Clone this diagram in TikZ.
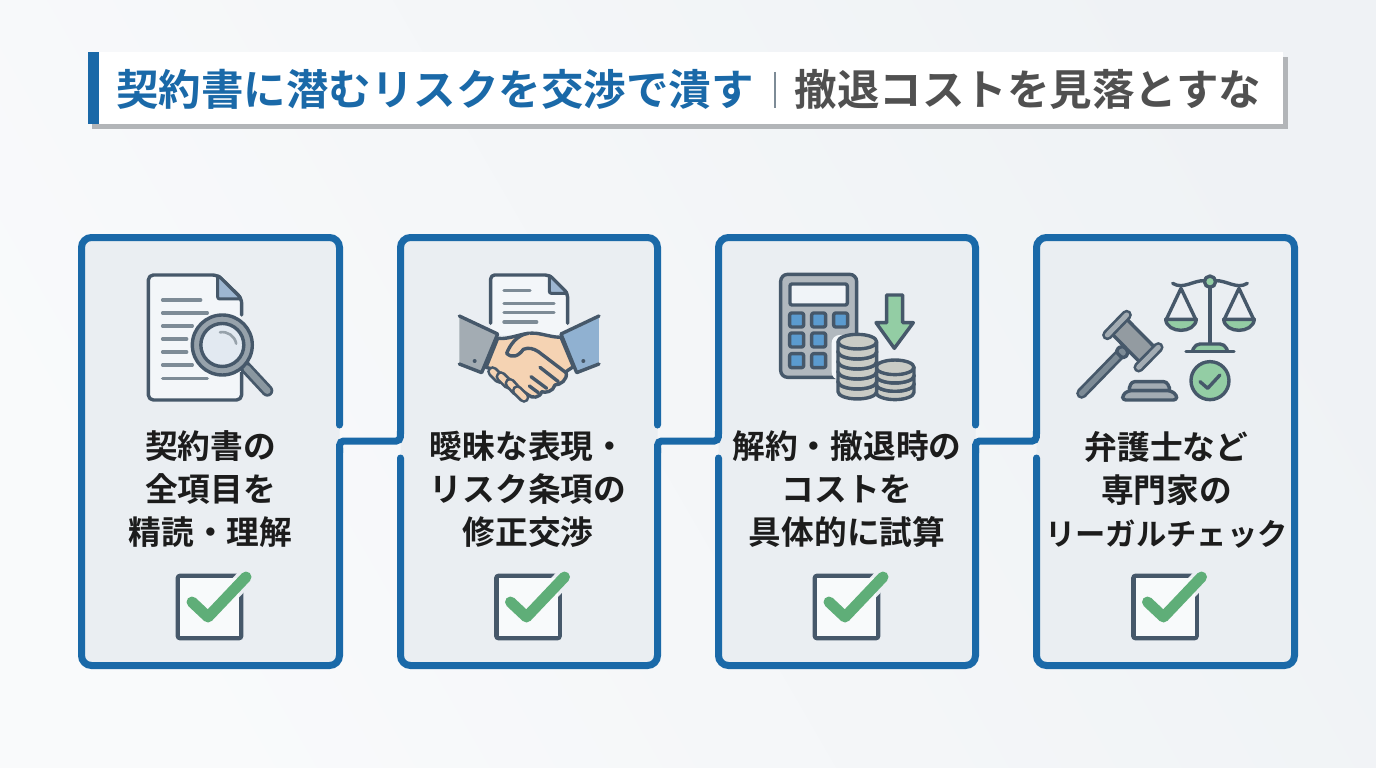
\documentclass[tikz,border=0pt]{standalone}
\usepackage{fontspec}
\setmainfont{Noto Sans CJK JP}[BoldFont={Noto Sans CJK JP Bold}]
\usetikzlibrary{calc}
\definecolor{bluemain}{HTML}{1A69A8}
\definecolor{darkic}{HTML}{46586A}
\definecolor{lineic}{HTML}{7D8B96}
\definecolor{cardfill}{HTML}{EAEEF2}
\definecolor{docfill}{HTML}{F3F6F9}
\definecolor{boxfill}{HTML}{F8FAFB}
\definecolor{foldfill}{HTML}{9DB6D1}
\definecolor{greyic}{HTML}{A3ACB3}
\definecolor{skin}{HTML}{F5D3B3}
\definecolor{greenic}{HTML}{93CDA4}
\definecolor{greenchk}{HTML}{5FAE78}
\definecolor{keyblue}{HTML}{5B9BCF}
\definecolor{coinc}{HTML}{C9CBC5}
\definecolor{txtd}{HTML}{1C1C1C}
\definecolor{txtg}{HTML}{505050}
\tikzset{
  cardnode/.style={fill=cardfill,rounded corners=10pt,minimum height=428pt,inner sep=0pt},
  cardline/.style={draw=bluemain,line width=7pt,rounded corners=10pt,line cap=round},
  conn/.style={draw=bluemain,line width=7pt,rounded corners=4pt,line cap=round},
  cardtext/.style={align=center,text=txtd,font=\fontsize{32.7}{43}\selectfont\bfseries,inner sep=0pt},
  titletext/.style={font=\fontsize{42.5}{50}\selectfont\bfseries,inner sep=0pt,anchor=center},
  ic/.style={draw=darkic,line width=3.4pt,line join=round,line cap=round},
  txtline/.style={draw=lineic,line width=3.4pt,line cap=round},
}
\newcommand{\chkbox}[1]{%
  \begin{scope}[shift={(#1,0)}]
    \draw[draw=darkic,fill=boxfill,line width=4.6pt,rounded corners=2pt] (178,576) rectangle (241,638);
    \draw[draw=cardfill,line width=18pt,line cap=round,line join=round] (192,602) -- (208,617) -- (246,577);
    \fill[boxfill] (180,578) rectangle (239,636);
    \draw[draw=greenchk,line width=11pt,line cap=round,line join=round] (192,602) -- (208,617) -- (246,577);
  \end{scope}}
\newcommand{\coin}[4]{%
  \filldraw[ic,fill=coinc] (#1-#3,#2) -- (#1-#3,#2+#4) arc[start angle=180,end angle=360,x radius=#3/3*1pt,y radius=7.3pt] -- (#1+#3,#2) -- cycle;
  \filldraw[ic,fill=coinc] (#1,#2) ellipse[x radius=#3/3*1pt,y radius=7.3pt];}
\begin{document}
\begin{tikzpicture}[x=1pt,y=-1pt]
\useasboundingbox (0,0) rectangle (1376,768);
\shade[left color=white!70!cardfill,right color=cardfill!75!white,shading angle=120] (0,0) rectangle (1376,768);
% title
\fill[fill=black!24!cardfill] (92,57) rectangle (1288,129);
\fill[white] (99,52) rectangle (1283,124);
\fill[bluemain] (88,52) rectangle (99,124);
\node[titletext,text=bluemain] (t1) at (435,89) {契約書に潜むリスクを交渉で潰す};
\node[titletext,text=txtg] (t2) at (1028,89) {撤退コストを見落とすな};
\draw[draw=lineic,line width=1.6pt] (775,72) -- (775,108);
% cards
\node[cardnode,minimum width=258pt] (card1) at (210.5,451.5) {};
\node[cardnode,minimum width=257pt] (card2) at (529,451.5) {};
\node[cardnode,minimum width=257pt] (card3) at (847,451.5) {};
\node[cardnode,minimum width=258pt] (card4) at (1165.5,451.5) {};
\draw[cardline] (339.5,425) -- (339.5,237.5) -- (81.5,237.5) -- (81.5,665.5) -- (339.5,665.5) -- (339.5,448);
\draw[cardline] (400.5,434) -- (400.5,237.5) -- (657.5,237.5) -- (657.5,425);
\draw[cardline] (657.5,448) -- (657.5,665.5) -- (400.5,665.5) -- (400.5,458);
\draw[cardline] (718.5,434) -- (718.5,237.5) -- (975.5,237.5) -- (975.5,425);
\draw[cardline] (975.5,448) -- (975.5,665.5) -- (718.5,665.5) -- (718.5,458);
\draw[cardline] (1036.5,434) -- (1036.5,237.5) -- (1294.5,237.5) -- (1294.5,665.5) -- (1036.5,665.5) -- (1036.5,458);
% connectors
\draw[conn] ([yshift=-1pt]card1.east) -- ([yshift=10.5pt]card1.east) -- ([yshift=10.5pt]card2.west) -- ([yshift=20pt]card2.west);
\draw[conn] ([yshift=-1pt]card2.east) -- ([yshift=10.5pt]card2.east) -- ([yshift=10.5pt]card3.west) -- ([yshift=20pt]card3.west);
\draw[conn] ([yshift=-1pt]card3.east) -- ([yshift=10.5pt]card3.east) -- ([yshift=10.5pt]card4.west) -- ([yshift=20pt]card4.west);
% texts
\node[cardtext] (x1) at (210.5,489.5) {契約書の\\全項目を\\精読・理解};
\node[cardtext] (x2) at (528,489.5) {曖昧な表現・\\リスク条項の\\修正交渉};
\node[cardtext] (x3) at (847,489.5) {解約・撤退時の\\コストを\\具体的に試算};
\node[cardtext] (x4) at (1166.5,489.5) {弁護士など\\専門家の\\{\fontsize{30.3}{43}\selectfont リーガルチェック}};
% checks
\chkbox{0}\chkbox{318.5}\chkbox{637}\chkbox{955.5}
% icon 1
\begin{scope}[shift={(70,225)},x=.3333pt,y=-.3333pt]
  \filldraw[ic,fill=docfill,rounded corners=5pt] (515,440) -- (515,525) -- (235,525) -- (235,150) -- (443,150) -- (515,220) -- (515,270);
  \fill[docfill] (500,300) rectangle (513.5,440);
  \filldraw[ic,fill=foldfill,line width=3pt,rounded corners=2pt] (443,150) -- (443,222) -- (515,222) -- cycle;
  \foreach \y/\e in {225/392,264/412,303/367,342/350,381/350,420/367,460/412}
    \draw[txtline] (278,\y) -- (\e,\y);
  \draw[darkic,line width=12pt,line cap=round] (525,425) -- (592,497);
  \draw[lineic!90!white,line width=6.5pt,line cap=round] (530,430) -- (592,497);
  \filldraw[ic,fill=lineic!80!white] (457,360) circle[radius=30pt];
  \filldraw[ic,fill=foldfill!30!white] (457,360) circle[radius=21.5pt];
  \draw[lineic!80!white,line width=2.6pt,line cap=round] (450,322) arc[start angle=100,end angle=10,radius=14pt];
\end{scope}
% icon 2
\begin{scope}[shift={(400,260)},x=.3333pt,y=-.3333pt]
  \fill[docfill] (272,190) -- (272,45) -- (448,45) -- (503,100) -- (503,225) -- (272,225) -- cycle;
  \draw[ic,rounded corners=4pt] (272,190) -- (272,45) -- (448,45) -- (503,100) -- (503,190);
  \filldraw[ic,fill=foldfill,line width=3pt,rounded corners=2pt] (448,45) -- (448,100) -- (503,100) -- cycle;
  \draw[txtline] (312,91) -- (390,91);
  \foreach \y/\e in {130/462,158/462,186/410} \draw[txtline] (312,\y) -- (\e,\y);
  % cuffs
  \fill[greyic] (178,168) -- (293,222) -- (245,338) -- (178,312) -- cycle;
  \draw[ic] (178,168) -- (293,222) -- (245,338) -- (178,312);
  \fill[darkic] (224,303) circle[radius=2pt];
  \fill[foldfill!80!keyblue] (597,168) -- (483,222) -- (530,338) -- (597,312) -- cycle;
  \draw[ic] (597,168) -- (483,222) -- (530,338) -- (597,312);
  \fill[darkic] (550,303) circle[radius=2pt];
  % hand
  \filldraw[ic,fill=skin] (293,235) .. controls (330,240) and (370,215) .. (410,220) .. controls (440,225) and (460,232) .. (483,232) -- (520,320) -- (498,335) .. controls (505,360) and (480,375) .. (465,375) .. controls (460,395) and (435,400) .. (425,395) .. controls (420,415) and (395,415) .. (385,405) -- (270,325) -- (258,322) -- cycle;
  \foreach \a/\b/\c/\d in {278/335/298/355,303/350/325/372,330/370/350/392,352/392/372/412}{
    \draw[darkic,line width=11pt,line cap=round] (\a,\b) -- (\c,\d);
    \draw[skin,line width=5.5pt,line cap=round] (\a,\b) -- (\c,\d);}
  \filldraw[ic,fill=skin] (385,220) .. controls (350,225) and (330,255) .. (320,280) .. controls (335,295) and (355,290) .. (370,268) .. controls (385,262) and (400,265) .. (415,275) -- (498,338);
  \draw[ic] (420,322) -- (475,365);
  \draw[ic] (393,350) -- (440,385);
  \draw[ic] (388,378) -- (415,398);
\end{scope}
% icon 3
\begin{scope}[shift={(760,260)},x=.3333pt,y=-.3333pt]
  \filldraw[ic,fill=greyic!85!white,rounded corners=7pt] (62,43) rectangle (290,352);
  \filldraw[ic,fill=foldfill!15!white,rounded corners=2pt] (90,72) rectangle (262,135);
  \foreach \x/\y in {110/180,176/180,242/180,110/240,176/240,110/302,176/302}
    \filldraw[ic,fill=keyblue,rounded corners=2pt] (\x-21,\y-21) rectangle (\x+21,\y+21);
  \fill[docfill,rounded corners=8pt] (215,225) rectangle (300,360);
  \filldraw[ic,fill=greenic] (380,105) -- (428,105) -- (428,188) -- (460,188) -- (403,265) -- (348,188) -- (380,188) -- cycle;
  \foreach \y in {372,347,322} {\coin{405}{\y}{57}{25}}
  \foreach \y in {365,335,305,275,245} {\coin{292}{\y}{58}{30}}
\end{scope}
% icon 4
\begin{scope}[shift={(1060,260)},x=.3333pt,y=-.3333pt]
  \draw[ic] (450,65) -- (450,255);
  \filldraw[ic,fill=greenic,rounded corners=5pt] (398,272) -- (405,252) -- (495,252) -- (502,272);
  \draw[ic] (378,275) -- (522,275);
  \draw[ic] (338,70) .. controls (370,90) and (400,60) .. (435,62);
  \draw[ic] (465,62) .. controls (500,60) and (530,90) .. (562,70);
  \filldraw[ic,fill=greenic] (450,65) circle[radius=5.6pt];
  \foreach \c in {363,537}{
    \draw[ic] (\c-44,178) -- (\c,85) -- (\c+44,178);
    \fill[greenic] (\c-44,180) .. controls (\c-40,220) and (\c+40,220) .. (\c+44,180) -- cycle;
    \draw[ic] (\c-46,178) -- (\c+46,178) .. controls (\c+42,222) and (\c-42,222) .. (\c-46,178) -- cycle;
  }
  \filldraw[ic,fill=greenic] (450,362) circle[radius=19pt];
  \draw[ic] (420,365) -- (443,385) -- (480,345);
  % gavel
  \draw[darkic,line width=11pt,line cap=round] (65,400) -- (180,282);
  \draw[lineic,line width=5.5pt,line cap=round] (65,400) -- (180,282);
  \filldraw[ic,fill=lineic,rounded corners=4pt] (165,272) -- (188,255) -- (208,278) -- (190,298) -- cycle;
  \filldraw[ic,fill=greyic!90!black] (150,216) -- (195,172) -- (290,268) -- (245,312) -- cycle;
  \draw[darkic,line width=10.5pt,line cap=round] (142,225) -- (200,165);
  \draw[greyic,line width=5pt,line cap=round] (142,225) -- (200,165);
  \draw[darkic,line width=10.5pt,line cap=round] (236,322) -- (295,262);
  \draw[greyic,line width=5pt,line cap=round] (236,322) -- (295,262);
  \filldraw[ic,fill=greyic,rounded corners=3pt] (205,392) -- (215,365) -- (320,365) -- (332,392) -- cycle;
  \filldraw[ic,fill=greyic,rounded corners=3pt] (188,420) -- (188,405) -- (205,392) -- (332,392) -- (350,405) -- (350,420) -- cycle;
\end{scope}
\end{tikzpicture}
\end{document}
